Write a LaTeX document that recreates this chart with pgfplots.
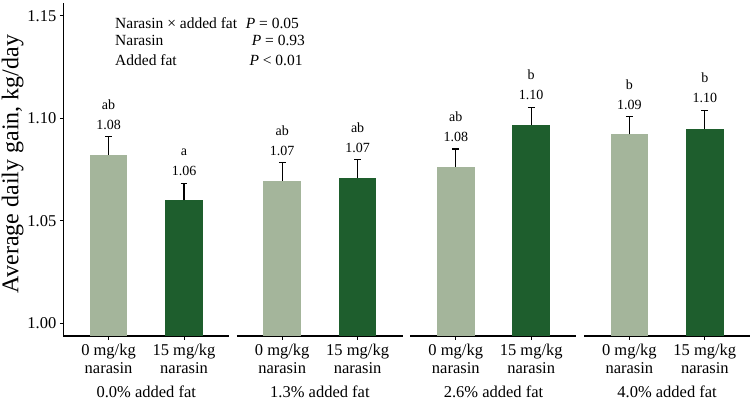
\documentclass[border=0pt]{standalone}
\usepackage{fontspec}
\setmainfont{Liberation Serif}
\usepackage{pgfplots}
\pgfplotsset{compat=1.18}
\usepgfplotslibrary{groupplots}
\definecolor{lightg}{HTML}{A4B59B}
\definecolor{darkg}{HTML}{1E5E2D}
\pgfplotsset{
 panel/.style={
  scale only axis, width=166pt, height=333pt,
  xmin=0.4, xmax=2.6, ymin=0.9937, ymax=1.1563,
  axis x line*=bottom,
  xtick={1,2}, xticklabels={{0 mg/kg\\narasin},{15 mg/kg\\narasin}},
  xticklabel style={align=center, font=\fontsize{16.5}{17.7}\selectfont, yshift=-1pt},
  tick align=outside, major tick length=3.5pt,
  tick style={black, line width=1pt},
  axis line style={line width=1.2pt},
  xlabel style={at={(axis description cs:0.5,-0.186)}, anchor=base, font=\fontsize{16.5}{18}\selectfont},
 },
 bars/.style={ybar, bar width=37.7pt, bar shift=0pt, draw=none, fill=#1,
   error bars/.cd, y dir=plus, y explicit, error mark=-,
   error bar style={line width=1.1pt, black},
   error mark options={rotate=90, line width=1.1pt, black, mark size=3.4pt}},
 vals/.style={draw=none, mark=none, nodes near coords, point meta=explicit symbolic,
   every node near coord/.append style={anchor=base, yshift=#1, font=\fontsize{14}{16}\selectfont, text=black}},
}
\begin{document}
\begin{tikzpicture}
\begin{groupplot}[group style={group size=4 by 1, horizontal sep=7.6pt}, panel]
\nextgroupplot[axis y line*=left, ytick={1.00,1.05,1.10,1.15},
  yticklabel style={/pgf/number format/fixed, /pgf/number format/fixed zerofill, /pgf/number format/precision=2, /pgf/number format/assume math mode=true, font=\fontsize{16.5}{18}\selectfont},
  ylabel={Average daily gain, kg/day},
  ylabel style={at={(axis description cs:-0.271,0.5165)}, rotate=0, anchor=base, font=\fontsize{24}{26}\selectfont},
  xlabel={0.0\% added fat}]
\addplot[bars=lightg] coordinates {(1,1.0821) +- (0,0.0090)};
\addplot[bars=darkg] coordinates {(2,1.0599) +- (0,0.0084)};
\addplot[vals=7.5pt] coordinates {(1,1.0911)[1.08] (2,1.0683)[1.06]};
\addplot[vals=27.5pt] coordinates {(1,1.0911)[ab] (2,1.0683)[a]};
\nextgroupplot[axis y line=none, ytick=\empty, xlabel={1.3\% added fat}]
\addplot[bars=lightg] coordinates {(1,1.0694) +- (0,0.0088)};
\addplot[bars=darkg] coordinates {(2,1.0709) +- (0,0.0088)};
\addplot[vals=7.5pt] coordinates {(1,1.0782)[1.07] (2,1.0797)[1.07]};
\addplot[vals=27.5pt] coordinates {(1,1.0782)[ab] (2,1.0797)[ab]};
\nextgroupplot[axis y line=none, ytick=\empty, xlabel={2.6\% added fat}]
\addplot[bars=lightg] coordinates {(1,1.0763) +- (0,0.0087)};
\addplot[bars=darkg] coordinates {(2,1.0967) +- (0,0.0086)};
\addplot[vals=7.5pt] coordinates {(1,1.0850)[1.08] (2,1.1053)[1.10]};
\addplot[vals=27.5pt] coordinates {(1,1.0850)[ab] (2,1.1053)[b]};
\nextgroupplot[axis y line=none, ytick=\empty, xlabel={4.0\% added fat}]
\addplot[bars=lightg] coordinates {(1,1.0922) +- (0,0.0086)};
\addplot[bars=darkg] coordinates {(2,1.0949) +- (0,0.0090)};
\addplot[vals=7.5pt] coordinates {(1,1.1008)[1.09] (2,1.1039)[1.10]};
\addplot[vals=27.5pt] coordinates {(1,1.1008)[b] (2,1.1039)[b]};
\end{groupplot}
\begin{scope}[font=\fontsize{15.5}{18}\selectfont]
\node[anchor=base west, inner sep=0pt] at ([xshift=51.7pt,yshift=-25.3pt]group c1r1.north west) {Narasin × added fat};
\node[anchor=base west, inner sep=0pt] at ([xshift=51.7pt,yshift=-42.7pt]group c1r1.north west) {Narasin};
\node[anchor=base west, inner sep=0pt] at ([xshift=51.7pt,yshift=-62.7pt]group c1r1.north west) {Added fat};
\node[anchor=base west, inner sep=0pt] at ([xshift=182.4pt,yshift=-25.3pt]group c1r1.north west) {\textit{P} = 0.05};
\node[anchor=base west, inner sep=0pt] at ([xshift=188.4pt,yshift=-42.7pt]group c1r1.north west) {\textit{P} = 0.93};
\node[anchor=base west, inner sep=0pt] at ([xshift=186pt,yshift=-62.7pt]group c1r1.north west) {\textit{P} < 0.01};
\end{scope}
\pgfresetboundingbox
\path[use as bounding box] ([xshift=-63.3pt,yshift=-66pt]group c1r1.south west) rectangle ++(752pt,402pt);
\end{tikzpicture}
\end{document}
